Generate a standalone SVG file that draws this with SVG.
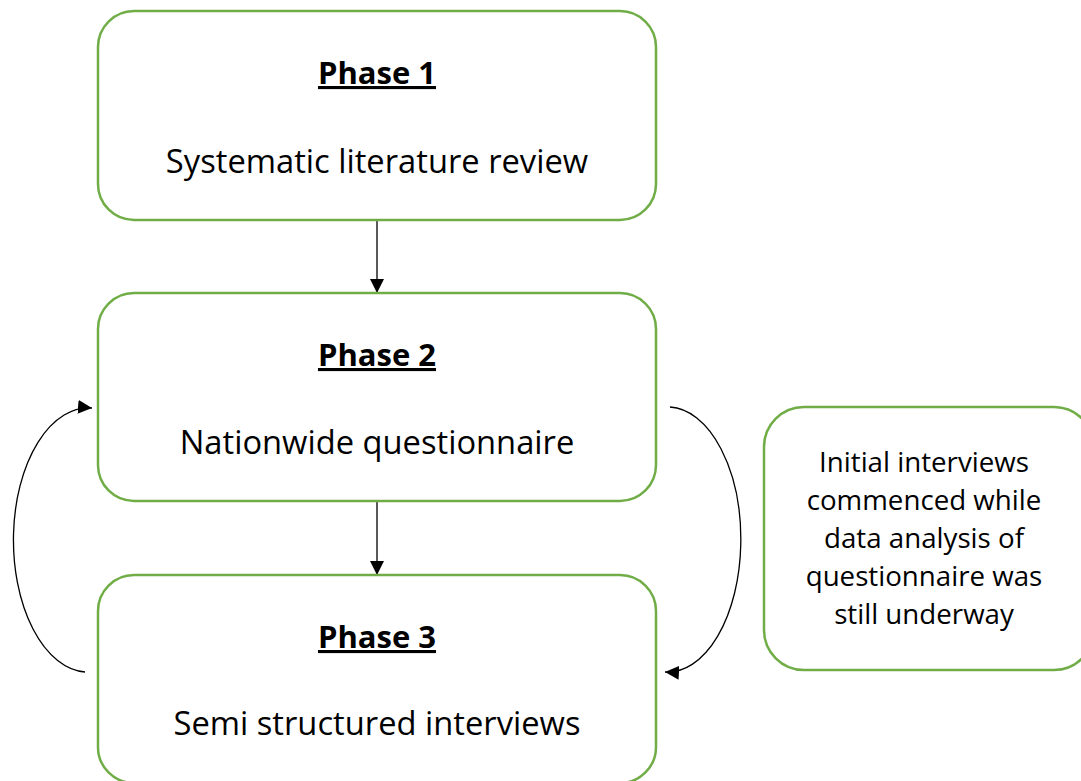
<svg xmlns="http://www.w3.org/2000/svg" width="1081" height="781" viewBox="0 0 1081 781">
  <defs>
    <marker id="arrow" markerUnits="userSpaceOnUse" markerWidth="14" markerHeight="14" viewBox="0 0 14 14" refX="14" refY="7" orient="auto">
      <path d="M0,0 L14,7 L0,14 Z" fill="#000"/>
    </marker>
    <style>
      .box { fill: #fff; stroke: #70ad47; stroke-width: 2.5; }
      .head { font-family: "Open Sans", "Liberation Sans", sans-serif; font-size: 31px; font-weight: bold; text-decoration: underline; fill: #000; text-anchor: middle; }
      .body { font-family: "Open Sans", "Liberation Sans", sans-serif; font-size: 32.7px; fill: #000; text-anchor: middle; }
      .note { font-family: "Open Sans", "Liberation Sans", sans-serif; font-size: 27.7px; fill: #000; text-anchor: middle; }
      .link { fill: none; stroke: #000; stroke-width: 1.3; marker-end: url(#arrow); }
    </style>
  </defs>
  <rect width="1081" height="781" fill="#fff"/>

  <g id="connectors">
    <line class="link" x1="377" y1="221" x2="377" y2="293"/>
    <line class="link" x1="377" y1="502" x2="377" y2="575"/>
    <path class="link" d="M85,672 A75,132 0 0 1 92,408"/>
    <path class="link" d="M670,407 A73,132 0 0 1 665,672"/>
  </g>

  <g id="phase1">
    <rect class="box" x="98" y="11" width="558" height="209" rx="36"/>
    <text class="head" x="377" y="84">Phase 1</text>
    <text class="body" x="377" y="173">Systematic literature review</text>
  </g>

  <g id="phase2">
    <rect class="box" x="98" y="293" width="558" height="208" rx="36"/>
    <text class="head" x="377" y="366">Phase 2</text>
    <text class="body" x="377" y="454">Nationwide questionnaire</text>
  </g>

  <g id="phase3">
    <rect class="box" x="98" y="575" width="558" height="208" rx="36"/>
    <text class="head" x="377" y="648">Phase 3</text>
    <text class="body" x="377" y="735">Semi structured interviews</text>
  </g>

  <g id="note">
    <rect class="box" x="764" y="407" width="330" height="263" rx="40"/>
    <text class="note" x="924" y="472">Initial interviews</text>
    <text class="note" x="924" y="510">commenced while</text>
    <text class="note" x="924" y="548">data analysis of</text>
    <text class="note" x="924" y="586">questionnaire was</text>
    <text class="note" x="924" y="624">still underway</text>
  </g>
</svg>
